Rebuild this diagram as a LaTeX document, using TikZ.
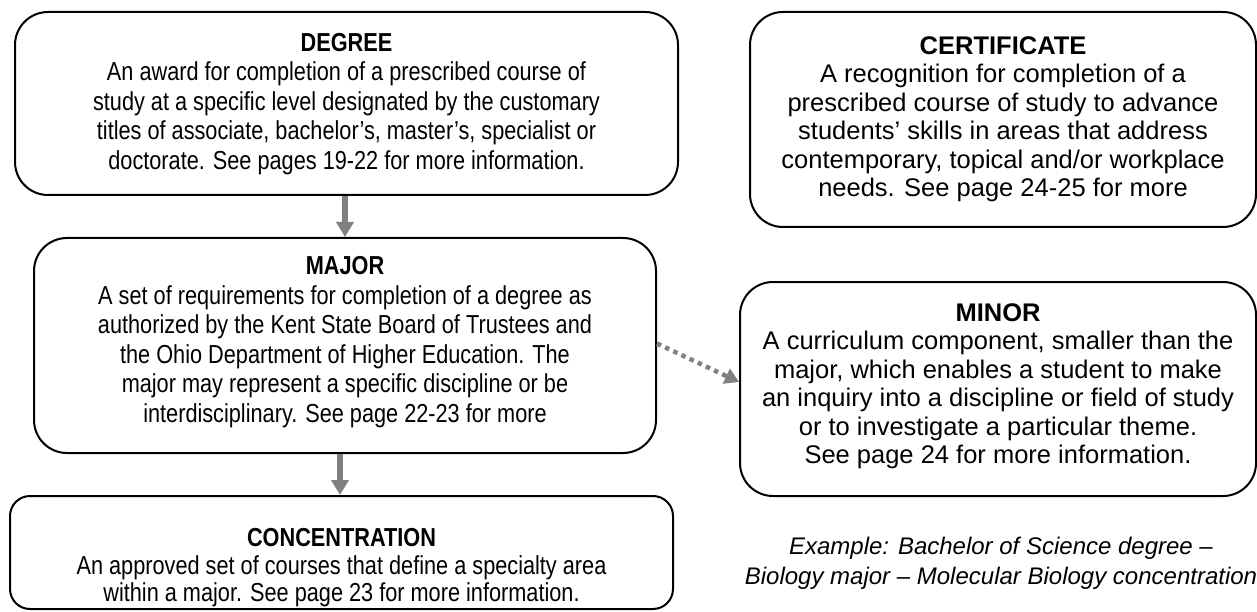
\documentclass[tikz,border=0pt]{standalone}
\usepackage{fontspec}
\setmainfont{Liberation Sans}
\newfontfamily\narrowfont[FakeStretch=0.835]{Liberation Sans}
\newfontfamily\widefont[FakeStretch=1.0]{Liberation Sans}
\usetikzlibrary{arrows.meta}
\definecolor{arrowgray}{HTML}{808080}
\tikzset{
  box/.style={draw=black, line width=2pt, rounded corners=33pt, inner sep=0pt},
  smallbox/.style={box, rounded corners=20pt},
  ltxt/.style={align=center, inner sep=0pt, font=\narrowfont\fontsize{26}{29.5}\selectfont},
  ctxt/.style={align=center, inner sep=0pt, font=\narrowfont\fontsize{26}{27.5}\selectfont},
  rtxt/.style={align=center, inner sep=0pt, font=\widefont\fontsize{25.5}{28.5}\selectfont},
  extxt/.style={align=center, inner sep=0pt, font=\widefont\itshape\fontsize{24}{30}\selectfont},
  solidarrow/.style={draw=arrowgray, line width=6pt, -{Triangle[width=17pt,length=15pt]}},
  dotarrow/.style={draw=arrowgray, line width=4.5pt, dash pattern=on 4.5pt off 4.5pt, -{Triangle[width=16pt,length=14pt]}}
}
\begin{document}
\begin{tikzpicture}[x=1pt,y=-1pt]
\useasboundingbox (0,0) rectangle (1257,612);
% boxes
\node[box, minimum width=663pt, minimum height=183pt] (degree) at (346.5,103.5) {};
\node[box, minimum width=506pt, minimum height=215pt] (certificate) at (1003,119.5) {};
\node[box, minimum width=622pt, minimum height=215pt] (major) at (345,345.5) {};
\node[box, minimum width=516pt, minimum height=214pt] (minor) at (998,389) {};
\node[smallbox, minimum width=663pt, minimum height=113pt] (concentration) at (341.5,552.5) {};
% texts
\node[ltxt] (degreetxt) at (346.5,104) {\textbf{DEGREE}\\An award for completion of a prescribed course of\\study at a specific level designated by the customary\\titles of associate, bachelor’s, master’s, specialist or\\doctorate. See pages 19-22 for more information.};
\node[rtxt] (certificatetxt) at (1003,119) {\textbf{CERTIFICATE}\\A recognition for completion of a\\prescribed course of study to advance\\students’ skills in areas that address\\contemporary, topical and/or workplace\\needs. See page 24-25 for more};
\node[ltxt] (majortxt) at (345,342) {\textbf{MAJOR}\\A set of requirements for completion of a degree as\\authorized by the Kent State Board of Trustees and\\the Ohio Department of Higher Education. The\\major may represent a specific discipline or be\\interdisciplinary. See page 22-23 for more};
\node[rtxt] (minortxt) at (998,386) {\textbf{MINOR}\\A curriculum component, smaller than the\\major, which enables a student to make\\an inquiry into a discipline or field of study\\or to investigate a particular theme.\\See page 24 for more information.};
\node[ctxt] (concentrationtxt) at (341.5,568) {\textbf{CONCENTRATION}\\An approved set of courses that define a specialty area\\within a major. See page 23 for more information.};
\node[extxt] (example) at (1001,563) {Example: Bachelor of Science degree –\\Biology major – Molecular Biology concentration};
% connectors
\coordinate (ax1) at (345,0);
\coordinate (ax2) at (340,0);
\draw[solidarrow] (degree.south -| ax1) -- (major.north -| ax1);
\draw[solidarrow] (major.south -| ax2) -- (concentration.north -| ax2);
\draw[dotarrow] ([yshift=2pt]major.east) -- ([yshift=7pt]minor.west);
\end{tikzpicture}
\end{document}
